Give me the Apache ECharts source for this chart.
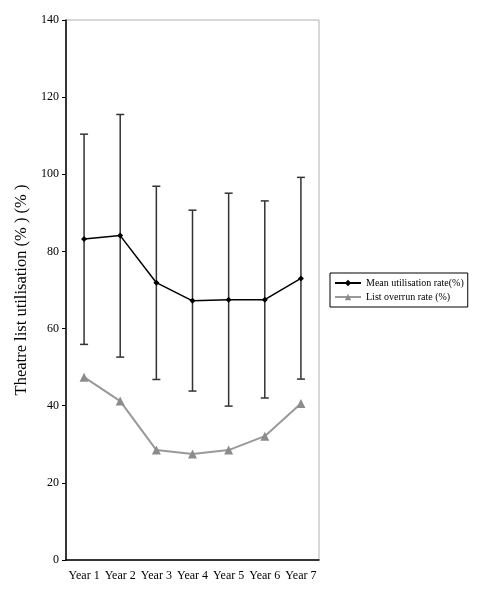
<!DOCTYPE html>
<html>
<head>
<meta charset="utf-8">
<script src="https://cdn.jsdelivr.net/npm/echarts@6/dist/echarts.min.js"></script>
<style>
  html, body { margin: 0; padding: 0; background: #fff; }
  #chart { width: 478px; height: 596px; }
</style>
</head>
<body>
<div id="chart"></div>
<script>
// data
var years = ['Year 1', 'Year 2', 'Year 3', 'Year 4', 'Year 5', 'Year 6', 'Year 7'];
var meanRate = [83.2, 84.1, 71.9, 67.2, 67.5, 67.5, 73.0];
var errHigh = [110.4, 115.5, 96.9, 90.7, 95.1, 93.1, 99.2];
var errLow = [55.9, 52.6, 46.8, 43.8, 39.9, 42.0, 46.9];
var overrunRate = [47.4, 41.2, 28.5, 27.5, 28.5, 32.1, 40.6];

var serif = '"Liberation Serif", "DejaVu Serif", serif';

var errData = years.map(function (y, i) { return [i, errLow[i], errHigh[i]]; });

var myChart = echarts.init(document.getElementById('chart'));
myChart.setOption({
    animation: false,
    grid: {
        left: 66, top: 20, right: 159, bottom: 36,
        show: true, borderColor: '#b0b0b0', borderWidth: 1
    },
    legend: {
        data: ['Mean utilisation rate(%)', 'List overrun rate (%)'],
        orient: 'vertical',
        left: 330, top: 273,
        itemWidth: 26, itemHeight: 8, itemGap: 4,
        padding: [5, 4, 5, 4],
        borderColor: '#000', borderWidth: 1,
        textStyle: { fontFamily: serif, fontSize: 10, color: '#000' }
    },
    xAxis: {
        type: 'category',
        data: years,
        axisLine: { lineStyle: { color: '#000', width: 1.5 } },
        axisTick: { length: 4, lineStyle: { color: '#000' } },
        axisLabel: { fontFamily: serif, fontSize: 12, color: '#000', margin: 10, interval: 0 }
    },
    yAxis: {
        type: 'value',
        min: 0, max: 140, interval: 20,
        name: 'Theatre list utilisation (% ) (% )',
        nameLocation: 'middle',
        nameGap: 31,
        nameTextStyle: { fontFamily: serif, fontSize: 16.5, color: '#000' },
        axisLine: { show: true, lineStyle: { color: '#000', width: 1.5 } },
        axisTick: { show: true, length: 4, lineStyle: { color: '#000' } },
        splitLine: { show: false },
        axisLabel: { fontFamily: serif, fontSize: 12, color: '#000', margin: 7 }
    },
    series: [
        {
            name: 'errors',
            type: 'custom',
            data: errData,
            z: 1,
            renderItem: function (params, api) {
                var x = api.value(0);
                var lo = api.coord([x, api.value(1)]);
                var hi = api.coord([x, api.value(2)]);
                var w = 4;
                var st = { stroke: '#333', lineWidth: 1.5 };
                return {
                    type: 'group',
                    children: [
                        { type: 'line', shape: { x1: hi[0], y1: hi[1], x2: lo[0], y2: lo[1] }, style: st },
                        { type: 'line', shape: { x1: hi[0] - w, y1: hi[1], x2: hi[0] + w, y2: hi[1] }, style: st },
                        { type: 'line', shape: { x1: lo[0] - w, y1: lo[1], x2: lo[0] + w, y2: lo[1] }, style: st }
                    ]
                };
            }
        },
        {
            name: 'Mean utilisation rate(%)',
            type: 'line',
            data: meanRate,
            z: 3,
            symbol: 'diamond',
            symbolSize: 6,
            lineStyle: { color: '#000', width: 1.5 },
            itemStyle: { color: '#000' }
        },
        {
            name: 'List overrun rate (%)',
            type: 'line',
            data: overrunRate,
            z: 3,
            symbol: 'triangle',
            symbolSize: 9,
            lineStyle: { color: '#999', width: 2 },
            itemStyle: { color: '#8c8c8c' }
        }
    ]
});
</script>
</body>
</html>
